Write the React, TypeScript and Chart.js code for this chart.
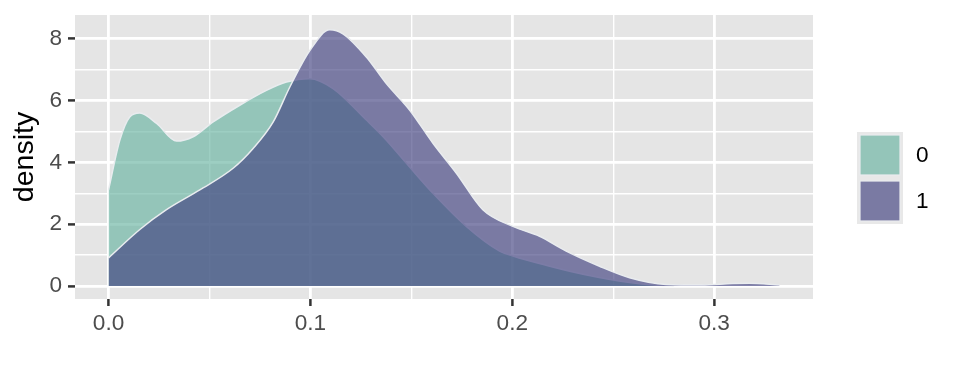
import React, { useEffect, useRef } from "react";
import { Chart, registerables } from "chart.js";

Chart.register(...registerables);

// Density curves
const group0X = [0, 0.0056, 0.0105, 0.0155, 0.0238, 0.0337, 0.0419, 0.0518, 0.065, 0.0782, 0.0881, 0.0997, 0.1112, 0.1277, 0.136, 0.149, 0.1607, 0.1772, 0.1937, 0.2003, 0.2185, 0.235, 0.2581, 0.27, 0.28];
const group0Y = [3.11, 4.72, 5.47, 5.6, 5.26, 4.69, 4.83, 5.31, 5.85, 6.33, 6.6, 6.71, 6.39, 5.37, 4.83, 3.86, 3.0, 1.93, 1.13, 0.97, 0.64, 0.38, 0.11, 0.03, 0.01];

const group1X = [0, 0.0155, 0.0287, 0.0452, 0.0617, 0.0716, 0.0815, 0.0898, 0.0997, 0.1096, 0.1161, 0.1277, 0.1376, 0.1492, 0.1607, 0.1723, 0.1854, 0.2003, 0.2135, 0.2267, 0.2432, 0.2581, 0.2762, 0.2937, 0.3091, 0.3175, 0.3323];
const group1Y = [0.91, 1.83, 2.47, 3.11, 3.81, 4.45, 5.3, 6.44, 7.62, 8.29, 8.16, 7.41, 6.55, 5.69, 4.62, 3.65, 2.47, 1.93, 1.61, 1.13, 0.64, 0.27, 0.05, 0.03, 0.08, 0.09, 0.03];

const groupLabels = ["0", "1"];
const groupColors = ["rgba(105,179,162,0.65)", "rgba(64,64,128,0.65)"];
const xTicks = [0, 0.05, 0.1, 0.15, 0.2, 0.25, 0.3];
const xTickLabels = ["0.0", "", "0.1", "", "0.2", "", "0.3"];
const yTicks = [0, 1, 2, 3, 4, 5, 6, 7, 8];
const yTickLabels = ["0", "", "2", "", "4", "", "6", "", "8"];
const yTitle = "density";

const FONT = "'Liberation Sans', Arial, Helvetica, sans-serif";
const TICK_SIZE = 22.6;
const TITLE_SIZE = 28.5;

export default function App() {
  const ref = useRef<HTMLCanvasElement | null>(null);

  useEffect(() => {
    if (!ref.current) return;
    const panelBg = {
      id: "panelBg",
      beforeDraw(chart: any) {
        const { ctx, chartArea } = chart;
        ctx.save();
        ctx.fillStyle = "#E5E5E5";
        ctx.fillRect(chartArea.left, chartArea.top, chartArea.right - chartArea.left, chartArea.bottom - chartArea.top);
        ctx.restore();
      },
    };
    const legendPlugin = {
      id: "customLegend",
      afterDraw(chart: any) {
        const ctx = chart.ctx;
        ctx.save();
        const x0 = 857, y0 = 132, w = 46, h = 46;
        for (let i = 0; i < groupLabels.length; i++) {
          const y = y0 + i * h;
          ctx.fillStyle = "#E8E8E8";
          ctx.fillRect(x0, y, w, h);
          ctx.fillStyle = "#E5E5E5";
          ctx.fillRect(x0 + 3, y + 3, w - 6, h - 6);
          ctx.fillStyle = groupColors[i];
          ctx.fillRect(x0 + 3, y + 3, w - 6, h - 6);
          ctx.strokeStyle = "#e9ecef";
          ctx.lineWidth = 1.2;
          ctx.strokeRect(x0 + 3, y + 3, w - 6, h - 6);
          ctx.fillStyle = "#000000";
          ctx.font = `${TICK_SIZE}px ${FONT}`;
          ctx.textBaseline = "middle";
          ctx.textAlign = "left";
          ctx.fillText(groupLabels[i], 916, y + h / 2 + 1);
        }
        ctx.restore();
      },
    };

    const isMajorX = (v: number) => Math.abs(v * 10 - Math.round(v * 10)) < 1e-6;
    const isMajorY = (v: number) => Math.round(v) % 2 === 0;
    const zeroPad = (scale: any) => {
      scale.paddingTop = 0;
      scale.paddingBottom = 0;
      scale.paddingLeft = 0;
      scale.paddingRight = 0;
    };

    const chart = new Chart(ref.current, {
      type: "line",
      data: {
        datasets: [
          {
            label: groupLabels[0],
            data: group0X.map((x, i) => ({ x, y: group0Y[i] })),
            backgroundColor: groupColors[0],
            borderColor: "#e9ecef",
            borderWidth: 1.5,
            fill: "origin",
            pointRadius: 0,
            cubicInterpolationMode: "monotone",
            order: 1,
          },
          {
            label: groupLabels[1],
            data: group1X.map((x, i) => ({ x, y: group1Y[i] })),
            backgroundColor: groupColors[1],
            borderColor: "#e9ecef",
            borderWidth: 1.5,
            fill: "origin",
            pointRadius: 0,
            cubicInterpolationMode: "monotone",
            order: 0,
          },
        ],
      },
      options: {
        animation: false,
        responsive: false,
        devicePixelRatio: 1,
        layout: { padding: { top: 15, right: 147, left: 0, bottom: 0 } },
        plugins: { legend: { display: false }, tooltip: { enabled: false } },
        scales: {
          x: {
            type: "linear",
            min: -0.01662,
            max: 0.34895,
            afterBuildTicks(scale: any) {
              scale.ticks = xTicks.map((v) => ({ value: v }));
            },
            afterFit(scale: any) {
              scale.height = 85;
              zeroPad(scale);
            },
            border: { display: false },
            grid: {
              color: "#FFFFFF",
              lineWidth: (c: any) => (isMajorX(c.tick.value) ? 2.8 : 1.4),
              drawTicks: true,
              tickLength: 7,
              tickWidth: 2.5,
              tickColor: (c: any) => (isMajorX(c.tick.value) ? "#333333" : "rgba(0,0,0,0)"),
            },
            ticks: {
              autoSkip: false,
              maxRotation: 0,
              padding: 4,
              color: "#4D4D4D",
              font: { family: FONT, size: TICK_SIZE },
              callback: (v: any, i: number) => xTickLabels[i],
            },
          },
          y: {
            type: "linear",
            min: -0.42,
            max: 8.77,
            afterBuildTicks(scale: any) {
              scale.ticks = yTicks.map((v) => ({ value: v }));
            },
            afterFit(scale: any) {
              scale.width = 75;
              zeroPad(scale);
            },
            border: { display: false },
            grid: {
              color: "#FFFFFF",
              lineWidth: (c: any) => (isMajorY(c.tick.value) ? 2.8 : 1.4),
              drawTicks: true,
              tickLength: 7,
              tickWidth: 2.5,
              tickColor: (c: any) => (isMajorY(c.tick.value) ? "#333333" : "rgba(0,0,0,0)"),
            },
            ticks: {
              autoSkip: false,
              padding: 6,
              color: "#4D4D4D",
              font: { family: FONT, size: TICK_SIZE },
              callback: (v: any, i: number) => yTickLabels[i],
            },
            title: {
              display: true,
              text: yTitle,
              color: "#000000",
              font: { family: FONT, size: TITLE_SIZE },
              padding: { top: 8, bottom: 0 },
            },
          },
        },
      },
      plugins: [panelBg, legendPlugin],
    } as any);
    return () => chart.destroy();
  }, []);

  return (
    <div style={{ position: "absolute", left: 0, top: 0, width: 960, height: 384, background: "#FFFFFF" }}>
      <canvas ref={ref} width={960} height={384} style={{ width: 960, height: 384, display: "block" }} />
    </div>
  );
}
